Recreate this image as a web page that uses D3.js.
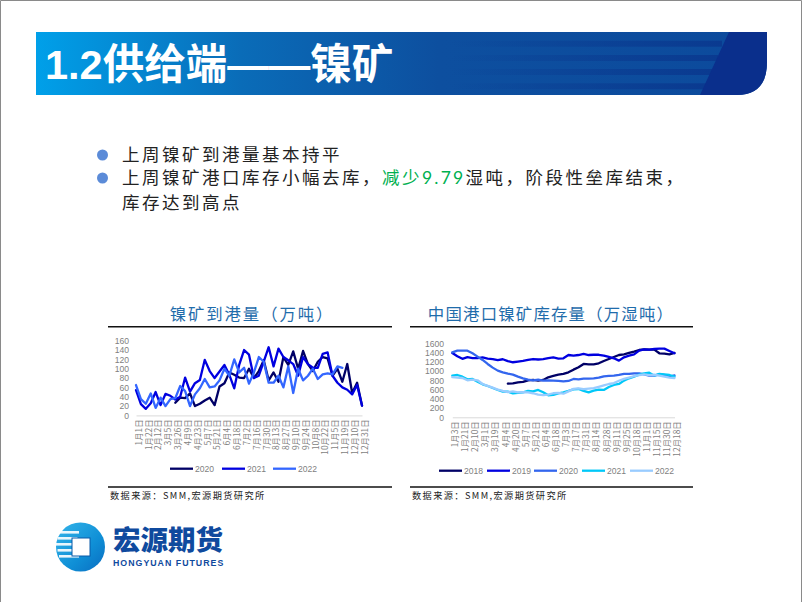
<!DOCTYPE html>
<html><head><meta charset="utf-8">
<script src="https://cdnjs.cloudflare.com/ajax/libs/d3/7.8.5/d3.min.js"></script>
<style>html,body{margin:0;padding:0;background:#fff}svg{display:block}</style>
</head><body><svg id="c" width="802" height="602"></svg>
<script>
const pageTitle = "1.2供给端——镍矿";
const arrivalTitle = "镍矿到港量（万吨）";
const stockTitle = "中国港口镍矿库存量（万湿吨）";
const sourceText = "数据来源：SMM,宏源期货研究所";
const logoCn = "宏源期货";
const logoEn = "HONGYUAN FUTURES";

const arrivalDates = ["1月1日","1月8日","1月22日","1月29日","2月12日","2月19日","3月5日","3月12日","3月26日","4月2日","4月9日","4月16日","4月23日","4月30日","5月7日","5月14日","5月21日","5月28日","6月4日","6月11日","6月18日","6月25日","7月2日","7月9日","7月16日","7月23日","7月30日","8月6日","8月13日","8月20日","8月27日","9月3日","9月10日","9月17日","9月24日","10月1日","10月8日","10月15日","10月22日","10月29日","11月5日","11月12日","11月19日","11月26日","12月10日","12月17日","12月31日"];
const arrival2020 = [null,null,null,null,null,null,null,null,27,38,37,47,20,25,32,38,22,62,69,92,87,81,80,100,80,95,118,75,92,72,125,108,137,100,138,110,95,115,125,122,85,100,72,110,48,70,21];
const arrival2021 = [54,24,14,26,50,22,46,42,34,40,81,51,69,76,119,95,80,94,108,87,58,108,140,130,80,85,115,146,105,143,125,118,110,85,125,110,102,102,132,135,85,70,60,55,45,65,21];
const arrival2022 = [65,35,25,47,16,38,20,35,37,63,52,20,45,58,78,60,62,75,100,85,120,92,102,68,92,125,115,70,70,85,60,105,48,100,75,85,100,78,88,90,88,105,102];
const arrivalTicks = [0,20,40,60,80,100,120,140,160];

const stockDates = ["1月3日","1月12日","1月21日","1月31日","2月10日","2月20日","3月1日","3月10日","3月19日","3月27日","4月4日","4月12日","4月20日","4月28日","5月7日","5月14日","5月21日","5月28日","6月4日","6月11日","6月18日","6月25日","7月3日","7月10日","7月17日","7月24日","7月31日","8月7日","8月14日","8月21日","8月28日","9月4日","9月11日","9月18日","9月25日","10月11日","10月18日","10月25日","11月1日","11月8日","11月15日","11月22日","11月30日","12月9日","12月18日"];
const stock2018 = [null,null,null,null,null,null,null,null,null,null,null,728,735,757,764,800,807,793,807,865,894,923,937,973,1030,1081,1153,1146,1146,1167,1218,1261,1305,1347,1362,1391,1420,1455,1470,1463,1463,1384,1377,1362,1391];
const stock2019 = [1390,1320,1265,1300,1280,1280,1295,1270,1260,1235,1255,1215,1190,1205,1220,1240,1260,1250,1260,1280,1295,1270,1276,1347,1333,1347,1370,1347,1352,1352,1333,1305,1276,1225,1297,1333,1362,1441,1470,1463,1477,1484,1484,1434,1384];
const stock2020 = [1405,1441,1441,1441,1384,1312,1240,1153,1074,1009,973,944,923,879,843,814,800,814,793,800,793,786,778,786,829,822,836,836,843,858,886,894,901,915,937,937,951,951,930,901,901,930,915,879,908];
const stock2021 = [900,915,879,822,829,771,713,677,634,591,555,555,519,526,540,570,562,591,540,476,483,519,540,570,605,612,570,540,577,598,591,656,699,721,793,843,879,922,951,966,901,937,930,915,879];
const stock2022 = [870,860,850,800,815,800,720,680,640,600,570,545,560,540,545,540,520,490,480,490,520,530,510,560,615,625,610,620,630,660,690,720,740,790,830,860,890,910,930,910,920,900,880,860,850];
const stockTicks = [0,200,400,600,800,1000,1200,1400,1600];

const bulletA = "上周镍矿到港量基本持平";
const bulletB1 = "上周镍矿港口库存小幅去库，";
const bulletBGreen1 = "减少";
const bulletBGreen2 = "9.79";
const bulletB2 = "湿吨，阶段性垒库结束，";
const bulletC = "库存达到高点";

const CJK = "'Noto Sans CJK SC','Noto Sans',sans-serif";
const LAT = "'Liberation Sans',Arial,sans-serif";
const svg = d3.select("#c");
const defs = svg.append("defs");
const hg = defs.append("linearGradient").attr("id","hg");
[[0,"#00a0e9"],[0.28,"#0a6cb8"],[0.55,"#0d4f9f"],[1,"#0c4a9c"]].forEach(([o,c])=>hg.append("stop").attr("offset",o).attr("stop-color",c));
const sg = defs.append("linearGradient").attr("id","sg");
[[0,"#0a3a90",0],[1,"#0a3a90",1]].forEach(([o,c,a])=>sg.append("stop").attr("offset",o).attr("stop-color",c).attr("stop-opacity",a));
const lg = defs.append("linearGradient").attr("id","lg").attr("x1",0).attr("y1",0).attr("x2",1).attr("y2",1);
[[0,"#35b5ea"],[0.6,"#0f8fd6"],[1,"#0a6cc0"]].forEach(([o,c])=>lg.append("stop").attr("offset",o).attr("stop-color",c));

svg.append("rect").attr("width",802).attr("height",602).attr("fill","#fff");
svg.append("path").attr("d","M0.5,602V0.5H801.5V602").attr("fill","none").attr("stroke","#8a8a8a");

// header band
const hdr = "M36,32H767V62Q767,95 737,95H36Z";
svg.append("path").attr("d",hdr).attr("fill","url(#hg)");
[[40.7,6,722],[55,6,718],[69,6,712],[83.3,6,706]].forEach(([y,h,r])=>svg.append("rect").attr("x",450).attr("y",y).attr("width",r-450).attr("height",h).attr("fill","url(#sg)"));
svg.append("path").attr("d","M729,32H767V62Q767,95 737,95H700Z").attr("fill","#0a2f8c");
svg.append("text").text(pageTitle).attr("x",45).attr("y",79).attr("fill","#fff")
  .attr("font-family",`${LAT.split(",")[0]},${CJK}`).attr("font-weight",700).attr("font-size",41.5);

// bullets
[155,178].forEach(y=>svg.append("circle").attr("cx",102.5).attr("cy",y).attr("r",5.5).attr("fill","#5b8bd8"));
const bodyAttr = s=>s.attr("font-family",CJK).attr("font-size",17.5).attr("font-weight",400).attr("fill","#222").attr("letter-spacing",2.5);
bodyAttr(svg.append("text").text(bulletA).attr("x",122).attr("y",161));
const l2 = bodyAttr(svg.append("text").attr("x",122).attr("y",184));
l2.append("tspan").text(bulletB1);
l2.append("tspan").text(bulletBGreen1).attr("fill","#00b050");
l2.append("tspan").text(bulletBGreen2).attr("fill","#00b050").attr("font-family","Lato,sans-serif").attr("letter-spacing",2.2);
l2.append("tspan").text(bulletB2);
bodyAttr(svg.append("text").text(bulletC).attr("x",122).attr("y",209));

function panel(o){
  const g = svg.append("g");
  g.append("text").text(o.title).attr("x",o.titleX).attr("y",320).attr("text-anchor","middle")
    .attr("font-family",CJK).attr("font-size",o.titleSize).attr("letter-spacing",o.titleSpacing).attr("fill","#1f6cab");
  [326.8,487].forEach(y=>g.append("line").attr("x1",o.ruleL).attr("x2",o.ruleR).attr("y1",y).attr("y2",y).attr("stroke","#111").attr("stroke-width",1.6));
  g.append("text").text(sourceText).attr("x",o.ruleL+2).attr("y",499).attr("font-family",CJK).attr("font-size",9.2).attr("fill","#222").attr("letter-spacing",1.4);

  const x = d3.scalePoint().domain(o.dates).range([o.x0,o.x1]);
  const y = d3.scaleLinear().domain([0,o.yMax]).range([o.y0,o.y1]);
  const yAxis = d3.axisLeft(y).tickValues(o.yTicks).tickSize(0).tickPadding(4).tickFormat(d3.format("d"));
  const ya = g.append("g").attr("transform",`translate(${o.labelX},0)`).call(yAxis);
  ya.select(".domain").remove();
  ya.selectAll("text").attr("font-family",LAT).attr("font-size",8.6).attr("fill","#7f7f7f");

  const xAxis = d3.axisBottom(x).tickValues(o.dates.filter((d,i)=>i%2===0)).tickSize(0).tickPadding(0);
  const xa = g.append("g").attr("transform",`translate(0,${o.y0})`).call(xAxis);
  xa.select(".domain").attr("stroke","#d9d9d9");
  xa.selectAll("text").attr("font-family",CJK).attr("font-size",8.4).attr("fill","#7f7f7f")
    .attr("text-anchor","end").attr("dy",0)
    .attr("transform",`translate(${o.labelShift},4) rotate(-90)`)
    .attr("dominant-baseline","middle");

  const line = d3.line().defined(d=>d.v!=null).x(d=>x(d.k)).y(d=>y(d.v)).curve(d3.curveLinear);
  o.series.forEach(s=>{
    const pts = o.dates.map((k,i)=>({k,v:i<s.values.length?s.values[i]:null}));
    g.append("path").attr("d",line(pts)).attr("fill","none").attr("stroke",s.color).attr("stroke-width",2.3).attr("stroke-linejoin","round").attr("stroke-linecap","round");
  });
  o.series.forEach((s,i)=>{
    const lx = o.legendX[i];
    g.append("line").attr("x1",lx).attr("x2",lx+23).attr("y1",o.legendY).attr("y2",o.legendY).attr("stroke",s.color).attr("stroke-width",2.3);
    g.append("text").text(s.name).attr("x",lx+25).attr("y",o.legendY+3).attr("font-family",LAT).attr("font-size",8.6).attr("fill","#7f7f7f");
  });
}

panel({title:arrivalTitle,titleX:252,titleSize:16.4,titleSpacing:1.9,ruleL:108,ruleR:392,
  dates:arrivalDates,x0:136,x1:362,y0:415.4,y1:340.7,yMax:160,yTicks:arrivalTicks,labelX:133,labelShift:3,legendY:468.7,legendX:[170,222,273],
  series:[{name:"2020",values:arrival2020,color:"#000066"},{name:"2021",values:arrival2021,color:"#0000e0"},{name:"2022",values:arrival2022,color:"#3366ff"}]});
panel({title:stockTitle,titleX:551,titleSize:16.4,titleSpacing:1.2,ruleL:410,ruleR:693,
  dates:stockDates,x0:452.3,x1:674.5,y0:417.3,y1:343.3,yMax:1600,yTicks:stockTicks,labelX:448,labelShift:3,legendY:470.7,legendX:[439,487,534,582,630],
  series:[{name:"2018",values:stock2018,color:"#000066"},{name:"2019",values:stock2019,color:"#0000e0"},{name:"2020",values:stock2020,color:"#3366ee"},{name:"2021",values:stock2021,color:"#00c8f8"},{name:"2022",values:stock2022,color:"#99ccff"}]});

// logo
const lo = svg.append("g");
lo.append("circle").attr("cx",80.5).attr("cy",547).attr("r",24.5).attr("fill","url(#lg)");
[531,537,543,549,555].forEach((y,i)=>lo.append("rect").attr("x",56+Math.abs(i-2)*1.5).attr("y",y).attr("width",20).attr("height",2.6).attr("fill","#fff").attr("opacity",.9));
lo.append("rect").attr("x",72).attr("y",538).attr("width",18).attr("height",18).attr("fill","#fff").attr("stroke","#0b5aa8").attr("stroke-width",1);
lo.append("text").text(logoCn).attr("x",113).attr("y",549.5).attr("font-family",CJK).attr("font-weight",900).attr("font-size",27.5).attr("fill","#0f4a9e");
lo.append("text").text(logoEn).attr("x",113).attr("y",565.5).attr("font-family",LAT).attr("font-weight",700).attr("font-size",8.8).attr("letter-spacing",1).attr("fill","#0f4a9e");
</script></body></html>
